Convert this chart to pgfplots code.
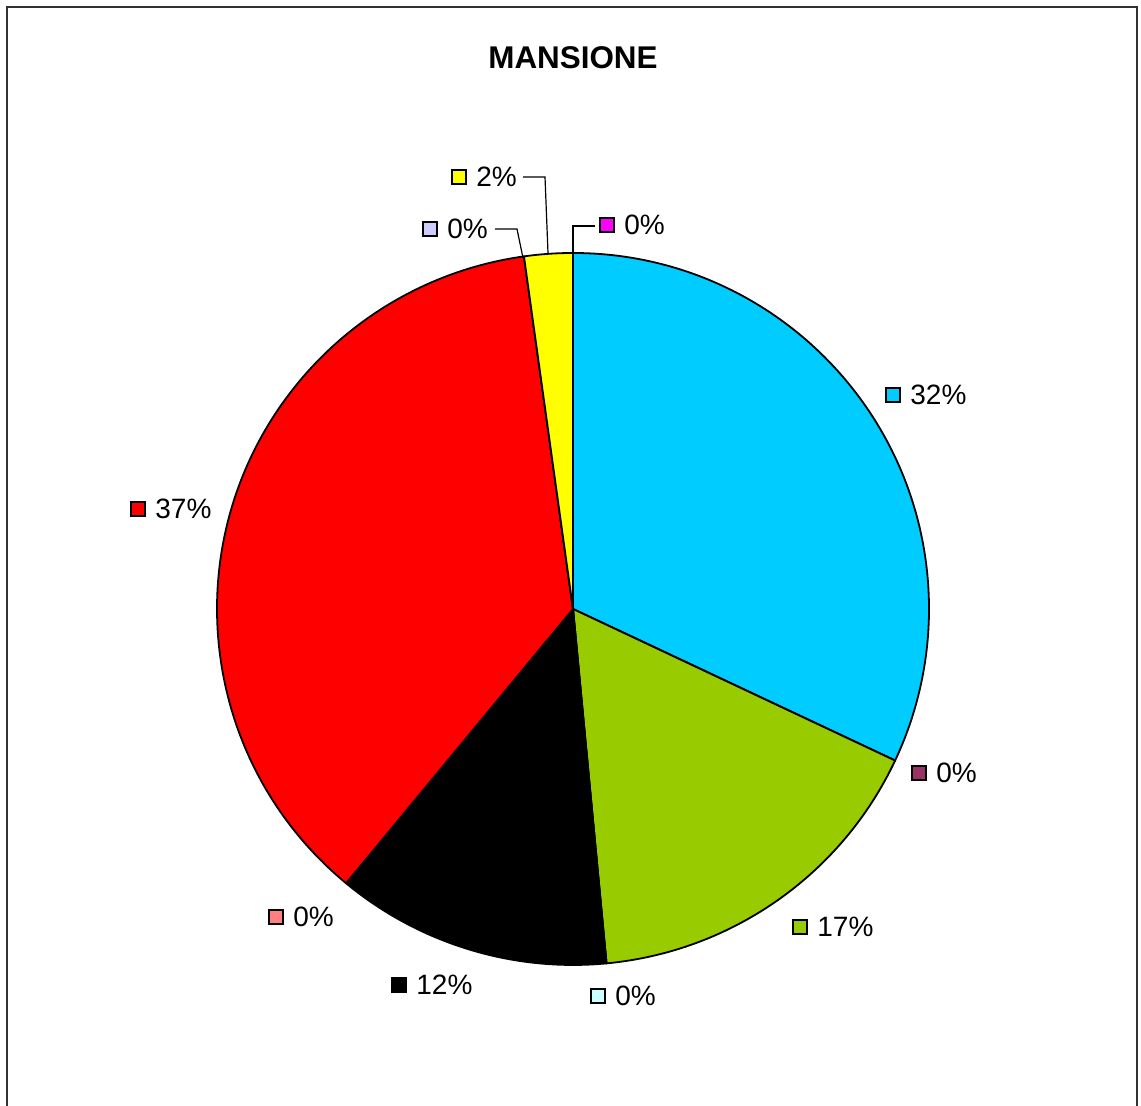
\documentclass[border=0pt]{standalone}
\usepackage{pgfplots}
\pgfplotsset{compat=1.18}
\usepackage{pgfplotstable}
\usepackage{fontspec}
\setmainfont{Liberation Sans}
\definecolor{pcyan}{HTML}{00CCFF}
\definecolor{pdmag}{HTML}{993366}
\definecolor{pgreen}{HTML}{99CC00}
\definecolor{plcyan}{HTML}{CCFFFF}
\definecolor{pblack}{HTML}{000000}
\definecolor{psalmon}{HTML}{FF8080}
\definecolor{pred}{HTML}{FF0000}
\definecolor{plav}{HTML}{CCCCFF}
\definecolor{pyellow}{HTML}{FFFF00}
\definecolor{pmag}{HTML}{FF00FF}
\pgfplotstableread{
pct col
32.0 pcyan
0 pdmag
16.5 pgreen
0 plcyan
12.5 pblack
0 psalmon
36.8 pred
0 plav
2.2 pyellow
0 pmag
}\piedata
\newcommand\lfont{\fontsize{14}{16}\selectfont}
\newcommand\lab[4]{%
  \filldraw[fill=#3, draw=black, line width=0.75pt] (axis cs:#1,1106-#2-7) rectangle (axis cs:#1+14,1106-#2+7);
  \node[anchor=west, inner sep=0pt, font=\lfont] at (axis cs:#1+24,1106-#2) {#4};
}
\begin{document}
\begin{tikzpicture}
\xdef\cum{0}
\foreach \i in {0,...,9}{%
  \pgfplotstablegetelem{\i}{pct}\of\piedata
  \pgfmathsetmacro\a{\cum*3.6}%
  \pgfmathsetmacro\newcum{\cum+\pgfplotsretval}%
  \pgfmathsetmacro\b{\newcum*3.6}%
  \expandafter\xdef\csname s\i\endcsname{\a}%
  \expandafter\xdef\csname e\i\endcsname{\b}%
  \xdef\cum{\newcum}%
  \pgfplotstablegetelem{\i}{col}\of\piedata
  \expandafter\xdef\csname col\i\endcsname{\pgfplotsretval}%
}
\begin{axis}[x=0.5pt, y=0.5pt, xmin=0, xmax=1141, ymin=0, ymax=1106, hide axis, clip=false]
\coordinate (SW) at (axis cs:0,0);
\coordinate (NE) at (axis cs:1141,1106);
\draw[line width=1pt, black!80] (axis cs:7,-20) -- (axis cs:7,1099) -- (axis cs:1137,1099) -- (axis cs:1137,-20);
\node[font=\bfseries\fontsize{15.7}{18}\selectfont] at (axis cs:573,1048) {MANSIONE};
\pgfplotsinvokeforeach{0,...,9}{%
  \edef\temp{\noexpand\filldraw[fill=\csname col#1\endcsname, draw=black, line width=0.9pt, line join=round] (axis cs:573,497) -- ++({90-\csname s#1\endcsname}:178pt) arc[start angle={90-\csname s#1\endcsname}, end angle={90-\csname e#1\endcsname}, radius=178pt] -- cycle;}%
  \temp
}
\draw[line width=0.6pt] (axis cs:523,929) -- (axis cs:545,929) -- (axis cs:548,853);
\draw[line width=0.6pt] (axis cs:495,877) -- (axis cs:517,877) -- (axis cs:523,848);
\draw[line width=0.6pt] (axis cs:573,853) -- (axis cs:573,880) -- (axis cs:595,880);
\lab{452}{177}{pyellow}{2\%}
\lab{423}{229}{plav}{0\%}
\lab{600}{225}{pmag}{0\%}
\lab{886}{395}{pcyan}{32\%}
\lab{912}{773}{pdmag}{0\%}
\lab{793}{927}{pgreen}{17\%}
\lab{591}{996}{plcyan}{0\%}
\lab{392}{985}{pblack}{12\%}
\lab{269}{917}{psalmon}{0\%}
\lab{131}{509}{pred}{37\%}
\end{axis}
\pgfresetboundingbox
\path[use as bounding box] (SW) rectangle (NE);
\end{tikzpicture}
\end{document}
